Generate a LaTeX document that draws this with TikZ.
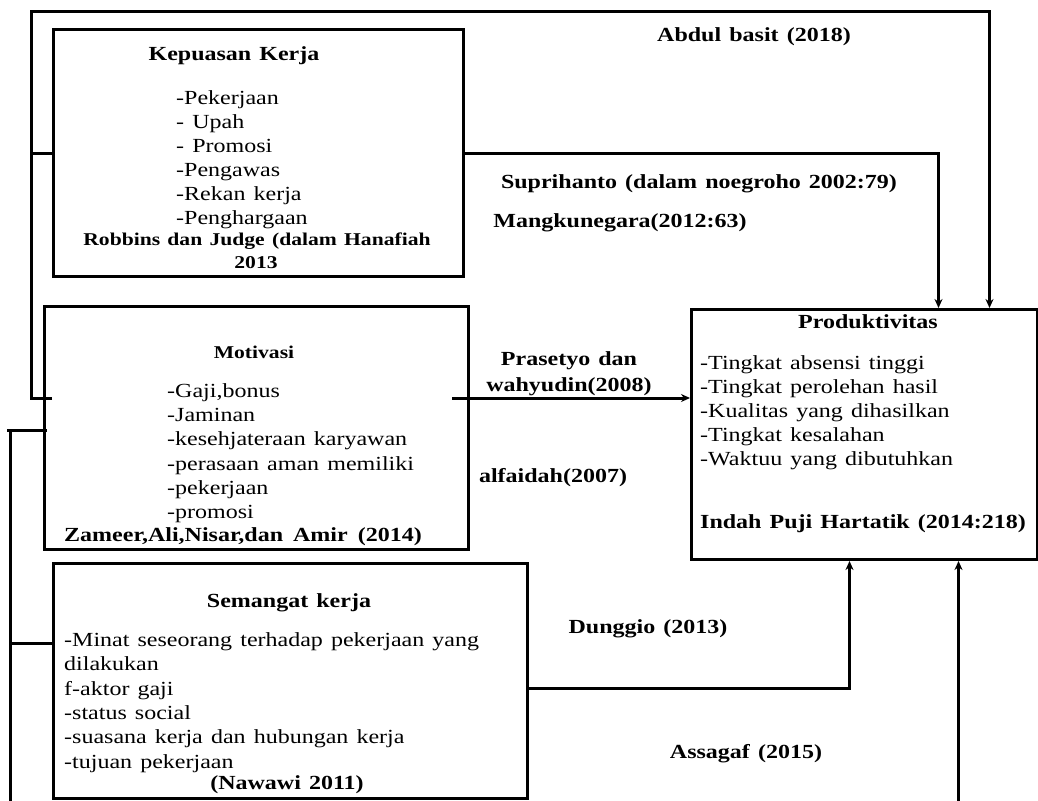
\documentclass[tikz,border=0pt]{standalone}
\usepackage{fontspec}
\setmainfont{Liberation Serif}[FakeStretch=1.2, WordSpace=1.35]
\usetikzlibrary{arrows.meta}
\newcommand\widesp{\spaceskip 10pt\relax}

\begin{document}
\begin{tikzpicture}[x=1pt,y=-1pt,
  box/.style={draw, line width=3pt, inner sep=0pt, anchor=north west},
  ln/.style={line width=3pt},
  arr/.style={line width=3pt,-{Stealth[length=9pt,width=8pt]}},
  txt/.style={font=\fontsize{20}{24}\selectfont, inner sep=0pt, anchor=mid west},
  bt/.style={font=\fontsize{20}{24}\selectfont\bfseries, inner sep=0pt, anchor=mid},
  btl/.style={font=\fontsize{20}{24}\selectfont\bfseries, inner sep=0pt, anchor=mid west},
]
\path[use as bounding box, clip] (0,0) rectangle (1038,800);

% boxes
\node[box, minimum width=410pt, minimum height=247pt] (kep) at (52,28) {};
\node[box, minimum width=424pt, minimum height=243pt] (mot) at (43,305) {};
\node[box, minimum width=474pt, minimum height=235pt] (sem) at (52,562) {};
\node[box, minimum width=346pt, minimum height=250pt] (prod) at (690,308) {};

% Kepuasan Kerja
\node[bt] (kt) at (234,58) {Kepuasan Kerja};
\foreach \t [count=\i] in {-Pekerjaan,- Upah,- Promosi,-Pengawas,-Rekan kerja,-Penghargaan}
  \node[txt] (k\i) at (176,{78+24*\i}) {\t};
\node[bt, font=\fontsize{18}{22}\selectfont\bfseries] (kc1) at (257,243) {Robbins dan Judge (dalam Hanafiah};
\node[bt, font=\fontsize{18}{22}\selectfont\bfseries] (kc2) at (256,266) {2013};

% Motivasi
\node[bt, font=\fontsize{18}{22}\selectfont\bfseries] (mt) at (254,356) {Motivasi};
\foreach \t [count=\i] in {-Gaji{,}bonus,-Jaminan,-kesehjateraan karyawan,-perasaan aman memiliki,-pekerjaan,-promosi}
  \node[txt] (m\i) at (167,{371+24.2*\i}) {\t};
\node[bt, font=\fontsize{20}{24}\selectfont\bfseries\widesp] (mc) at (243,539) {Zameer,Ali,Nisar,dan Amir (2014)};

% Semangat kerja
\node[bt] (st) at (289,605) {Semangat kerja};
\foreach \t [count=\i] in {-Minat seseorang terhadap pekerjaan yang,dilakukan,f-aktor gaji,-status social,-suasana kerja dan hubungan kerja,-tujuan pekerjaan}
  \node[txt] (s\i) at (64,{620+24.3*\i}) {\t};
\node[bt] (sc) at (287,787) {(Nawawi 2011)};

% Produktivitas
\node[bt] (pt) at (868,326) {Produktivitas};
\foreach \t [count=\i] in {-Tingkat absensi tinggi,-Tingkat perolehan hasil,-Kualitas yang dihasilkan,-Tingkat kesalahan,-Waktuu yang dibutuhkan}
  \node[txt] (p\i) at (700,{343+24*\i}) {\t};
\node[btl] (pc) at (700,526) {Indah Puji Hartatik (2014:218)};

% connector labels
\node[bt] (l1) at (754,39) {Abdul basit (2018)};
\node[bt] (l2) at (699,186) {Suprihanto (dalam noegroho 2002:79)};
\node[bt] (l3) at (620,225) {Mangkunegara(2012:63)};
\node[bt] (l4) at (569,363) {Prasetyo dan};
\node[bt] (l5) at (569,389) {wahyudin(2008)};
\node[bt] (l6) at (553,480) {alfaidah(2007)};
\node[bt] (l7) at (648,631) {Dunggio (2013)};
\node[bt] (l8) at (746,756) {Assagaf (2015)};

% connectors
\coordinate (tl) at (31,12);
\coordinate (m0) at (52,398);
\coordinate (m2) at (452,398);
\draw[ln] (kep.west) -- (kep.west -| tl);
\draw[arr] (m0) -| (tl) -| ([xshift=125pt]prod.north);
\draw[arr] (kep.east) -| ([xshift=74pt]prod.north);
\draw[arr] (m2) -- (m2 -| prod.west);
\draw[arr] (sem.east |- 0,688) -| ([xshift=-15pt]prod.south);

\coordinate (bl) at (10,430);
\draw[ln] (7,430) -- (47,430);
\draw[ln] (bl |- 0,643) -- (sem.west |- 0,643);
\draw[arr] (bl) -- (10,815) -| ([xshift=94pt]prod.south);
\end{tikzpicture}
\end{document}
